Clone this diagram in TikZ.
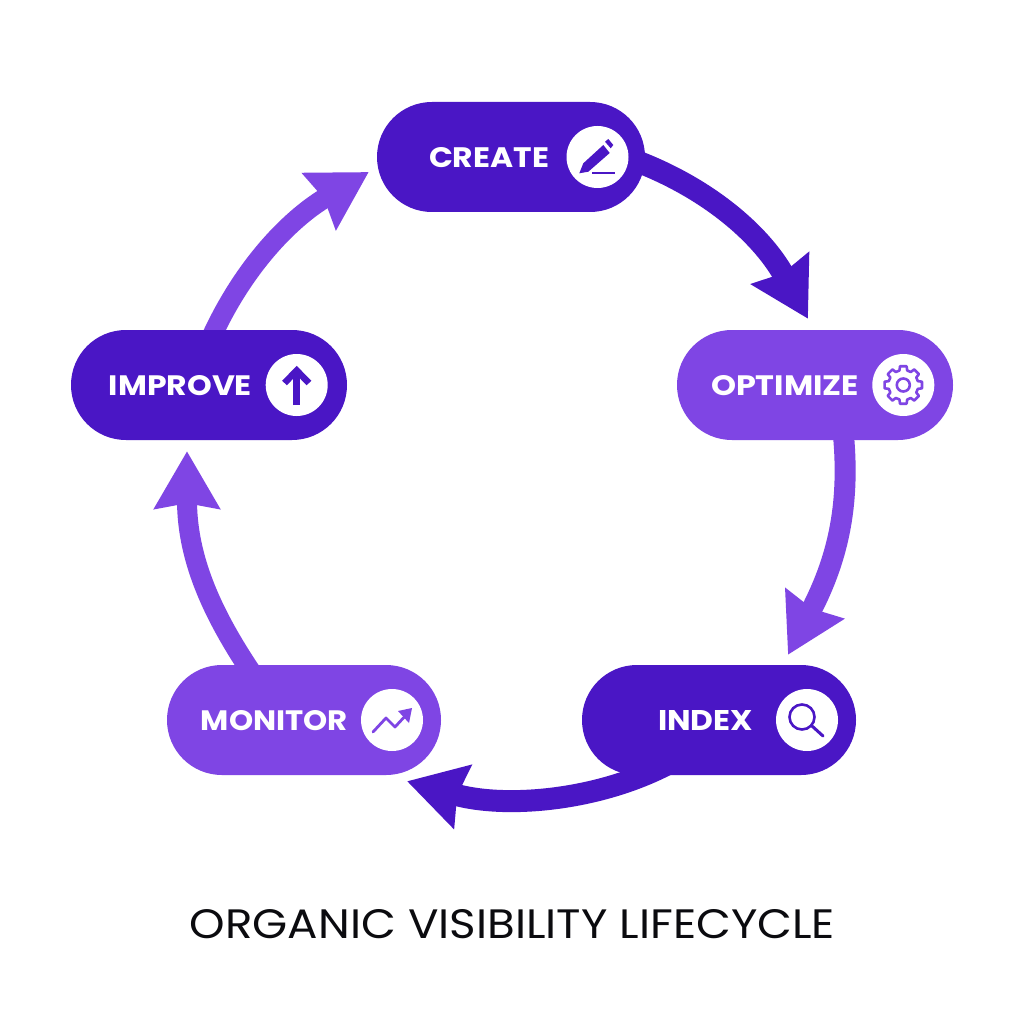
\documentclass[tikz,border=0pt]{standalone}
\usepackage{fontspec}
\usepackage{graphicx}
\setmainfont{Poppins}
\usetikzlibrary{arrows.meta}
\pgfdeclarelayer{back}
\pgfsetlayers{back,main}
\definecolor{deep}{HTML}{4A16C5}
\definecolor{soft}{HTML}{7F45E4}
\definecolor{ink}{HTML}{0B0B0F}
\newcommand{\pilltext}[3]{\makebox[0pt]{\hspace*{#1}\raisebox{-0.8pt}[20pt][0pt]{\resizebox{#2}{20pt}{\bfseries #3}}}}
\tikzset{
  pill/.style={draw=none,fill=#1,rounded corners=54.9pt,minimum width=274pt,minimum height=110pt,inner sep=0pt,text=white},
  iconbadge/.style={circle,fill=white,minimum size=62pt,inner sep=0pt},
  cycle arrow/.style={line width=#1,-{Stealth[length=57pt,width=64pt,inset=5pt]}},
  icon stroke/.style={line width=#1,line cap=round,line join=round},
}
\begin{document}
\begin{tikzpicture}[x=1pt,y=-1pt]
\useasboundingbox (0,0) rectangle (1024,1024);
% pills
\node[pill=deep,minimum width=268pt] (create) at (511,157) {\pilltext{-44pt}{120pt}{CREATE}};
\node[pill=soft,minimum width=276pt] (optimize) at (815,385) {\pilltext{-60pt}{148pt}{OPTIMIZE}};
\node[pill=deep] (index) at (719,720) {\pilltext{-27pt}{95pt}{INDEX}};
\node[pill=soft] (monitor) at (304,720) {\pilltext{-59pt}{147pt}{MONITOR}};
\node[pill=deep,minimum width=276pt] (improve) at (209,385) {\pilltext{-57pt}{143pt}{IMPROVE}};
% connectors, behind the pills
\begin{pgfonlayer}{back}
\fill[white] (0,0) rectangle (1024,1024);
\draw[cycle arrow=22pt,deep] ([shift={(-23,-1)}]create.east) .. controls (702,183) and (760,232) .. ([shift={(-7,-11)}]optimize.north);
\draw[cycle arrow=21pt,soft] ([shift={(28,-10)}]optimize.south) .. controls (850,500) and (840,555) .. ([shift={(69,-10)}]index.north);
\draw[cycle arrow=22pt,deep] ([shift={(-39,-18)}]index.south) .. controls (610,799) and (510,810) .. ([shift={(103,6)}]monitor.south);
\draw[cycle arrow=20pt,soft] ([shift={(-42,23)}]monitor.north) .. controls (218,625) and (187,565) .. ([shift={(-22,11)}]improve.south);
\draw[cycle arrow=20pt,soft] ([shift={(-4,22)}]improve.north) .. controls (238,272) and (288,220) .. ([shift={(-8,15)}]create.west);
\end{pgfonlayer}
% badges
\node[iconbadge] (createbadge) at (597.5,157) {};
\node[iconbadge] (optimizebadge) at (903.3,385) {};
\node[iconbadge] (indexbadge) at (807,720) {};
\node[iconbadge] (monitorbadge) at (392,720) {};
\node[iconbadge] (improvebadge) at (296.7,385) {};
% pencil
\fill[deep] (579.3,173.3) -- (583.3,163.3) -- (603.3,145) -- (609.7,153) -- (588.3,171.7) -- cycle;
\fill[deep] (605,141.7) -- (608.3,139) -- (613.3,145) -- (610.7,148.3) -- cycle;
\draw[deep,line width=2pt] (592,173.5) -- (615,173.5);
% gear
\begin{scope}[shift={(optimizebadge.center)}]
\draw[soft,icon stroke=2.6pt] (-15:15pt)
  \foreach \a in {0,45,...,315}{ -- (\a-15:15pt) -- (\a-10:19pt) -- (\a+10:19pt) -- (\a+15:15pt) } -- cycle;
\draw[soft,line width=2.6pt] (0,0) circle (6.5pt);
\end{scope}
% magnifier
\draw[deep,line width=2.6pt] (802,717) circle (12.5pt);
\draw[deep,icon stroke=3pt] (812,726) -- (823,736);
% trend
\draw[soft,icon stroke=2.8pt] (373,732) -- (386,718) -- (395,727) -- (407,714);
\fill[soft] (412,708) -- (398,711) -- (409,723) -- cycle;
% up arrow
\draw[deep,line width=6.5pt] (296.7,405) -- (296.7,372);
\draw[deep,line width=6.5pt,miter limit=4] (284.5,383) -- (296.7,370.5) -- (309,383);
% title
\node[text=ink,inner sep=0pt] (title) at (512.5,924) {\resizebox{645pt}{29pt}{ORGANIC VISIBILITY LIFECYCLE}};
\end{tikzpicture}
\end{document}
